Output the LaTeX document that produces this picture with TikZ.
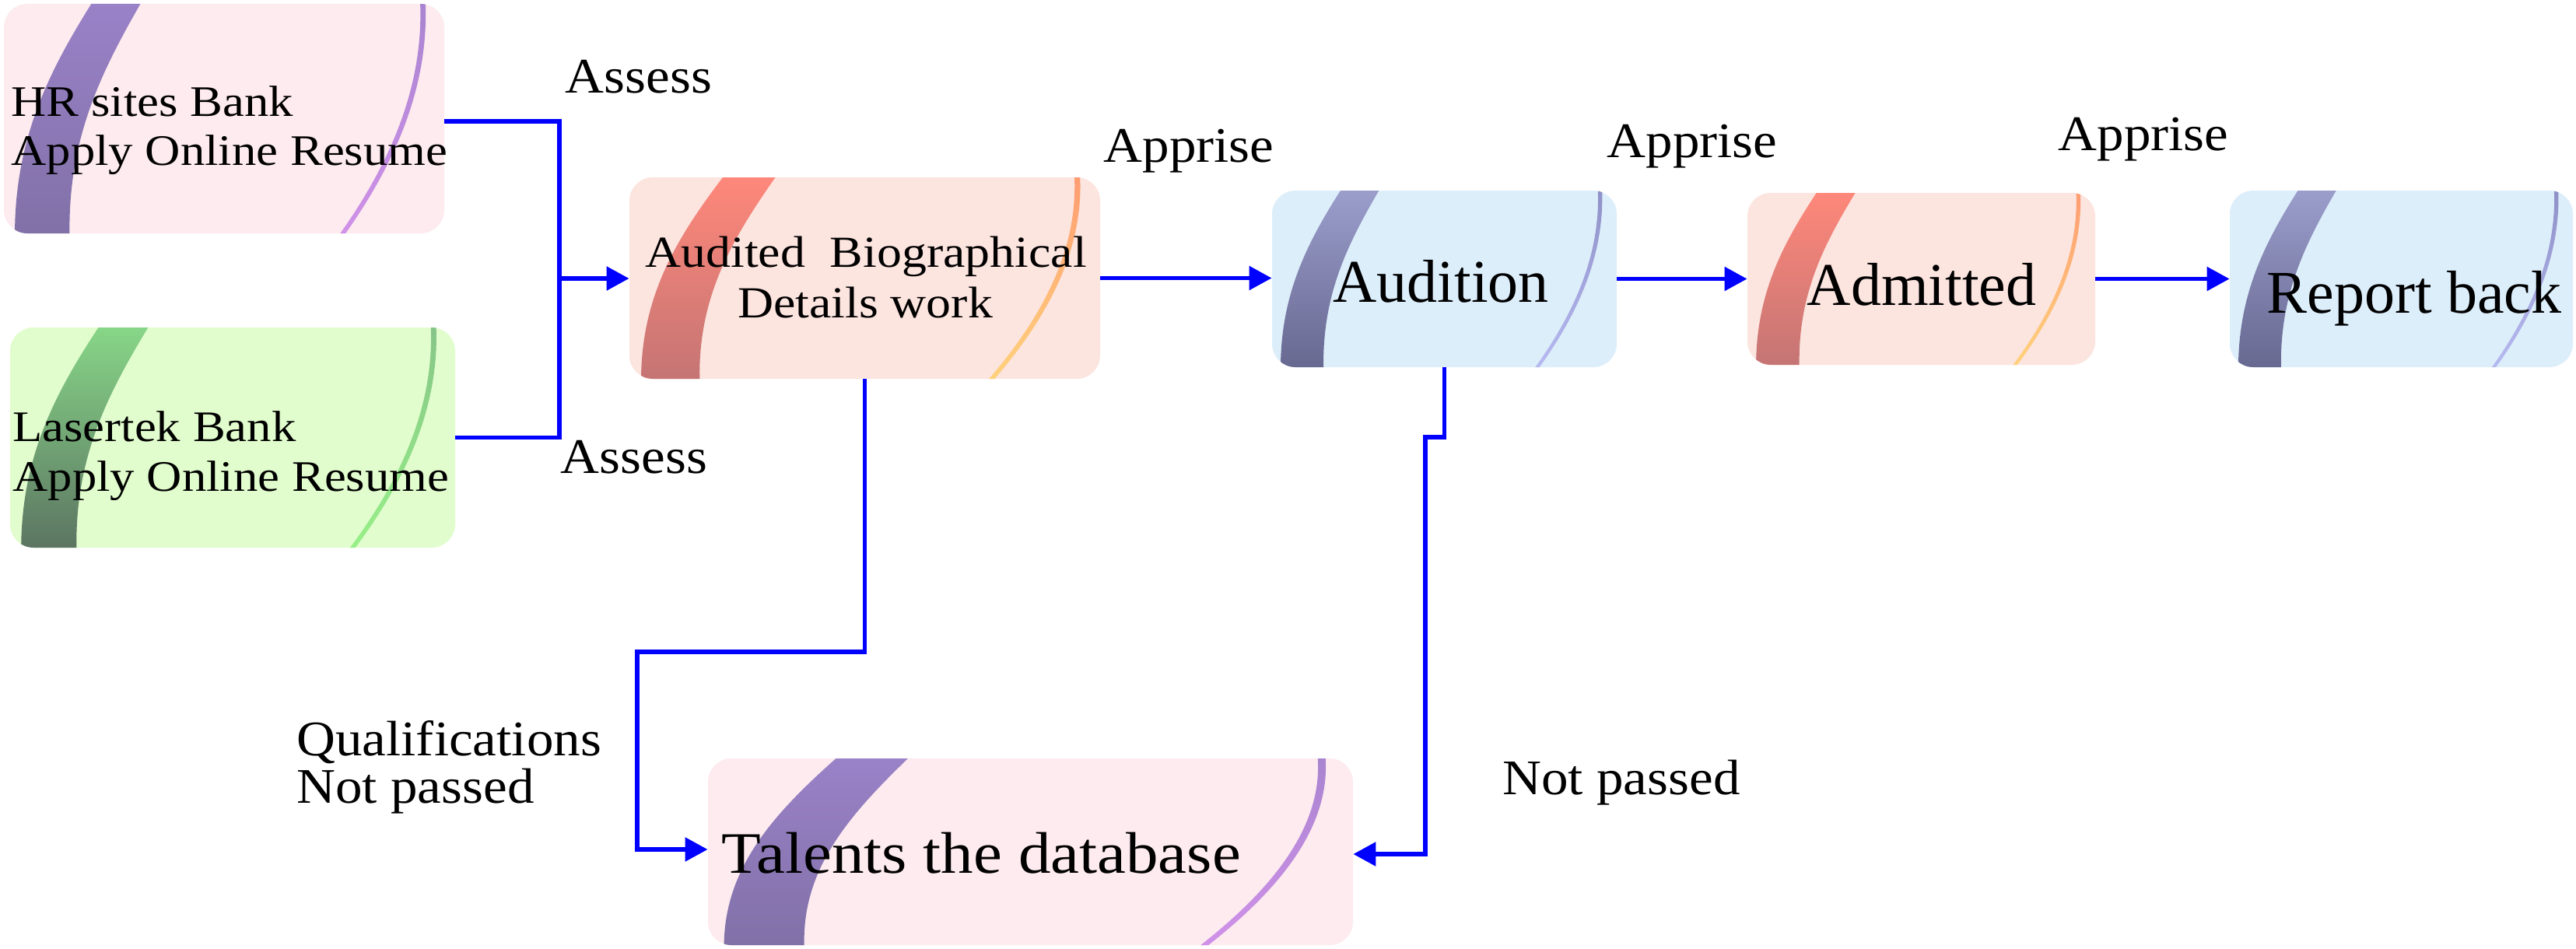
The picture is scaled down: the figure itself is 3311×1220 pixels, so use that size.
\documentclass[tikz,border=0pt]{standalone}
\usepackage{fontspec}
\setmainfont{Liberation Serif}
\newfontfamily\fA{Liberation Serif}[FakeStretch=1.12]
\newfontfamily\fT{Liberation Serif}[FakeStretch=1.10]
\newfontfamily\fL{Liberation Serif}[FakeStretch=1.08]
\usetikzlibrary{arrows.meta}

\definecolor{pkfill}{HTML}{FDEBEF}
\definecolor{pkb1}{HTML}{9A82C8}
\definecolor{pkb2}{HTML}{8070A6}
\definecolor{pkl1}{HTML}{A884D0}
\definecolor{pkl2}{HTML}{D292EA}
\definecolor{grfill}{HTML}{E1FDCD}
\definecolor{grb1}{HTML}{88D888}
\definecolor{grb2}{HTML}{5A7060}
\definecolor{grl1}{HTML}{86C488}
\definecolor{grl2}{HTML}{98F288}
\definecolor{ogfill}{HTML}{FCE4DF}
\definecolor{ogb1}{HTML}{FF887A}
\definecolor{ogb2}{HTML}{C27474}
\definecolor{ogl1}{HTML}{FF9C72}
\definecolor{ogl2}{HTML}{FFD47C}
\definecolor{blfill}{HTML}{DDEEFB}
\definecolor{blb1}{HTML}{9C9ECC}
\definecolor{blb2}{HTML}{64668E}
\definecolor{bll1}{HTML}{8E90C6}
\definecolor{bll2}{HTML}{B8BCF2}
\definecolor{connblue}{HTML}{0000FF}

\tikzset{
  flowbase/.style={rectangle, rounded corners=15pt, inner sep=0pt, draw=none},
  conn/.style={draw=connblue, line width=2.75pt},
  arr/.style={conn, -{Triangle[length=14.5pt,width=15pt]}},
  txt/.style={inner sep=0pt, text=black},
  lbl/.style={txt, font=\fL\fontsize{32}{36}\selectfont},
  smalltxt/.style={txt, font=\fA\fontsize{28}{32}\selectfont},
  audtxt/.style={txt, font=\fA\fontsize{28.5}{32}\selectfont},
  bigtxt/.style={txt, font=\fontsize{39}{44}\selectfont},
  taltxt/.style={txt, font=\fT\fontsize{37.75}{42}\selectfont},
}

% #1 name, #2 x0, #3 y0, #4 x1, #5 y1, #6 colour scheme prefix
\newcommand{\flowbox}[6]{%
  \node[flowbase, fill=#6fill, minimum width={(#4-#2)*0.5pt}, minimum height={(#5-#3)*0.5pt}] (#1) at ({(#2+#4)/2},{(#3+#5)/2}) {};
  \begin{scope}
    \clip[rounded corners=15pt] (#2,#3) rectangle (#4,#5);
    \begin{scope}[shift={(#2,#3)}, xscale={#4-#2}, yscale={#5-#3}]
      \shade[top color=#6b1, bottom color=#6b2]
        (0.205,-0.02) .. controls (0.10,0.3) and (0.02,0.6) .. (0.025,1.05)
        -- (0.15,1.05) .. controls (0.14,0.6) and (0.22,0.3) .. (0.316,-0.02) -- cycle;
      \shade[top color=#6l1, bottom color=#6l2]
        (0.945,-0.02) .. controls (0.955,0.35) and (0.88,0.7) .. (0.745,1.05)
        -- (0.757,1.05) .. controls (0.892,0.7) and (0.967,0.35) .. (0.957,-0.02) -- cycle;
    \end{scope}
  \end{scope}
}

\begin{document}
\begin{tikzpicture}[x=0.5pt, y=-0.5pt]
  \useasboundingbox (0,0) rectangle (3311,1220);
  \fill[white] (0,0) rectangle (3311,1220);

  \flowbox{hr}{5}{5}{571}{300}{pk}
  \flowbox{laser}{13}{421}{585}{704}{gr}
  \flowbox{aud}{809}{228}{1414}{487}{og}
  \flowbox{audition}{1635}{245}{2078}{472}{bl}
  \flowbox{adm}{2246}{248}{2693}{469}{og}
  \flowbox{rep}{2866}{245}{3307}{472}{bl}
  \flowbox{tal}{910}{975}{1739}{1215}{pk}

  \coordinate (j) at (719,358);
  \coordinate (q) at (819,838);
  \coordinate (r) at (1832,562);

  \draw[conn] ([yshift=-1.75pt]hr.east) -| (j);
  \draw[conn] (laser.east) -| (j);
  \draw[arr] (j) -- (j -| aud.west);
  \draw[arr] (aud.east) -- (aud.east -| audition.west);
  \draw[arr] (audition.east) -- (audition.east -| adm.west);
  \draw[arr] (adm.east) -- (adm.east -| rep.west);
  \draw[arr] (aud.south) |- (q) |- ([yshift=1.5pt]tal.west);
  \draw[arr] (audition.south) |- (r) |- ([yshift=-1.5pt]tal.east);

  \node[smalltxt, anchor=base west] (hr1) at (14,149) {HR sites Bank};
  \node[smalltxt, anchor=base west] (hr2) at (14,213) {Apply Online Resume};
  \node[smalltxt, anchor=base west] (la1) at (16,567) {Lasertek Bank};
  \node[smalltxt, anchor=base west] (la2) at (16,631) {Apply Online Resume};
  \node[audtxt, anchor=base] (au1) at (1113,343) {Audited\ \ Biographical};
  \node[audtxt, anchor=base] (au2) at (1112,408) {Details work};
  \node[bigtxt, anchor=base] (aut) at (1852,388) {Audition};
  \node[bigtxt, anchor=base] (adt) at (2470,392) {Admitted};
  \node[bigtxt, anchor=base] (rpt) at (3103,402) {Report back};
  \node[taltxt, anchor=base west] (tat) at (927,1122) {Talents the database};

  \node[lbl, anchor=base] (as1) at (821,120) {Assess};
  \node[lbl, anchor=base] (as2) at (815,608) {Assess};
  \node[lbl, anchor=base] (ap1) at (1528,208) {Apprise};
  \node[lbl, anchor=base] (ap2) at (2175,203) {Apprise};
  \node[lbl, anchor=base] (ap3) at (2755,193) {Apprise};
  \node[lbl, anchor=base west] (ql1) at (381,971) {Qualifications};
  \node[lbl, anchor=base west] (ql2) at (381,1032) {Not passed};
  \node[lbl, anchor=base] (np) at (2084,1021) {Not passed};
\end{tikzpicture}
\end{document}
